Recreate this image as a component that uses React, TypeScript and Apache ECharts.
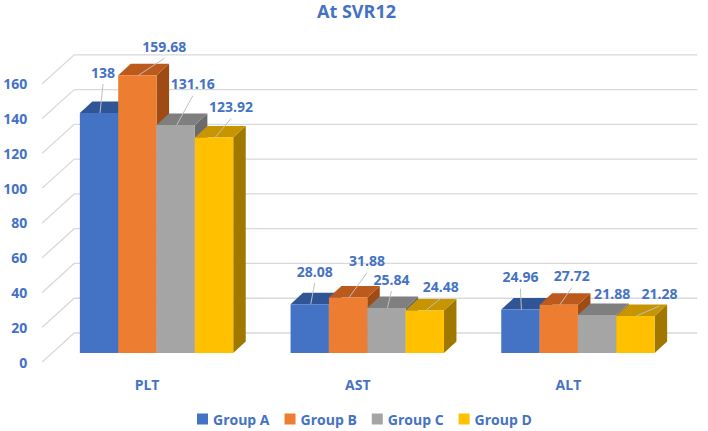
import React, { useEffect, useRef } from "react";
import * as echarts from "echarts";

const categories = ["PLT", "AST", "ALT"];
const groupNames = ["Group A", "Group B", "Group C", "Group D"];
const groupA = [138, 28.08, 24.96];
const groupB = [159.68, 31.88, 27.72];
const groupC = [131.16, 25.84, 21.88];
const groupD = [123.92, 24.48, 21.28];
const yTicks = [0, 20, 40, 60, 80, 100, 120, 140, 160];

// label nudges (pixels, relative to bar front-top centre) and leader visibility
const labelNudgeA = [[4, -41], [5, -33], [0, -33]];
const labelNudgeB = [[27, -29], [19, -37], [13, -29]];
const labelNudgeC = [[17, -41], [5, -29], [15, -21]];
const labelNudgeD = [[17, -31], [16, -24], [24, -22]];
const leaderA = [true, true, true];
const leaderB = [true, true, true];
const leaderC = [true, true, false];
const leaderD = [true, true, true];

const seriesValues = [groupA, groupB, groupC, groupD];
const labelNudges = [labelNudgeA, labelNudgeB, labelNudgeC, labelNudgeD];
const leaders = [leaderA, leaderB, leaderC, leaderD];

const frontColors = ["#4472C4", "#ED7D31", "#A5A5A5", "#FFC000"];
const topColors = ["#2F5597", "#BB5A1C", "#7F7F7F", "#C69500"];
const sideColors = ["#27477E", "#A04A14", "#6B6B6B", "#A07800"];

const TEXT = "#4472C4";
const FONT = "'Open Sans', 'Noto Sans', sans-serif";
const DX = 12.5;
const DY = -11.5;
const FRONT_SHIFT = -9;
const BAR_FRAC = 0.182;

function barGeom(api: any, g: number) {
  const cat = api.value(0);
  const val = api.value(1);
  const base = api.coord([cat, 0]);
  const top = api.coord([cat, val]);
  const band = api.size([1, 0])[0];
  const bw = band * BAR_FRAC;
  const x0 = base[0] + (g - 2) * bw;
  return { x0, bw, yTop: top[1] + FRONT_SHIFT, yBot: base[1] + FRONT_SHIFT };
}

export default function App() {
  const ref = useRef<HTMLDivElement>(null);
  useEffect(() => {
    if (!ref.current) return;
    const chart = echarts.init(ref.current, null, { renderer: "svg" });

    const gridSeries: any = {
      type: "custom",
      name: "grid",
      z: 0,
      silent: true,
      encode: { x: 0, y: 1 },
      data: yTicks.map((v) => [0, v]),
      renderItem: (params: any, api: any) => {
        const cs = params.coordSys;
        const y = api.coord([0, api.value(1)])[1];
        return {
          type: "polyline",
          shape: {
            points: [
              [cs.x - 9, y],
              [cs.x + 23, y - 29],
              [cs.x + cs.width + 14, y - 29],
            ],
          },
          style: { stroke: "#D9D9D9", lineWidth: 1.3, fill: "none" },
        };
      },
    };

    const barSeries = groupNames.map((name, g) => ({
      type: "custom",
      name,
      z: 2,
      itemStyle: { color: frontColors[g] },
      encode: { x: 0, y: 1 },
      data: categories.map((_, j) => [j, seriesValues[g][j]]),
      renderItem: (params: any, api: any) => {
        const { x0, bw, yTop, yBot } = barGeom(api, g);
        return {
          type: "group",
          children: [
            {
              type: "polygon",
              shape: {
                points: [
                  [x0 + bw, yTop],
                  [x0 + bw + DX, yTop + DY],
                  [x0 + bw + DX, yBot + DY],
                  [x0 + bw, yBot],
                ],
              },
              style: { fill: sideColors[g] },
            },
            {
              type: "polygon",
              shape: {
                points: [
                  [x0, yTop],
                  [x0 + bw, yTop],
                  [x0 + bw + DX, yTop + DY],
                  [x0 + DX, yTop + DY],
                ],
              },
              style: { fill: topColors[g] },
            },
            {
              type: "rect",
              shape: { x: x0, y: yTop, width: bw, height: yBot - yTop },
              style: { fill: frontColors[g] },
            },
          ],
        };
      },
    }));

    const labelData: number[][] = [];
    groupNames.forEach((_, g) => {
      categories.forEach((_, j) => labelData.push([j, seriesValues[g][j], g]));
    });

    const labelSeries: any = {
      type: "custom",
      name: "labels",
      z: 10,
      silent: true,
      encode: { x: 0, y: 1 },
      data: labelData,
      renderItem: (params: any, api: any) => {
        const g = api.value(2);
        const j = api.value(0);
        const { x0, bw, yTop } = barGeom(api, g);
        const cx = x0 + bw / 2;
        const nudge = labelNudges[g][j];
        const lx = cx + nudge[0];
        const ly = yTop + nudge[1];
        const children: any[] = [];
        if (leaders[g][j]) {
          children.push({
            type: "line",
            shape: { x1: lx, y1: ly + 12, x2: cx + 1, y2: yTop },
            style: { stroke: "#BFBFBF", lineWidth: 1 },
          });
        }
        children.push({
          type: "text",
          x: lx,
          y: ly,
          style: {
            text: String(seriesValues[g][j]),
            align: "center",
            verticalAlign: "middle",
            fill: TEXT,
            font: `bold 14px ${FONT}`,
          },
        });
        return { type: "group", children };
      },
    };

    chart.setOption({
      animation: false,
      backgroundColor: "#ffffff",
      title: {
        text: "At SVR12",
        left: 317,
        top: 2,
        padding: 0,
        textStyle: { color: TEXT, fontSize: 18, fontWeight: "bold", fontFamily: FONT },
      },
      legend: {
        data: groupNames.map((n) => ({ name: n, icon: "rect" })),
        left: 197,
        top: 412,
        padding: 0,
        itemWidth: 11,
        itemHeight: 11,
        itemGap: 15,
        textStyle: { color: TEXT, fontSize: 14, fontWeight: "bold", fontFamily: FONT },
      },
      grid: { left: 51.2, right: 24.7, top: 83.8, bottom: 69, containLabel: false },
      xAxis: {
        type: "category",
        data: categories,
        axisLine: { show: false },
        axisTick: { show: false },
        axisLabel: {
          margin: 15,
          color: TEXT,
          fontSize: 14,
          fontWeight: "bold",
          fontFamily: FONT,
          padding: [0, 19, 0, 0],
        },
        splitLine: { show: false },
      },
      yAxis: {
        type: "value",
        min: 0,
        max: 160,
        interval: 20,
        axisLine: { show: false },
        axisTick: { show: false },
        splitLine: { show: false },
        axisLabel: {
          margin: 24,
          color: TEXT,
          fontSize: 14,
          fontWeight: "bold",
          fontFamily: FONT,
        },
      },
      series: [gridSeries, ...barSeries, labelSeries],
    });
    return () => chart.dispose();
  }, []);
  return (
    <div
      ref={ref}
      style={{ position: "fixed", left: 0, top: 0, width: 708, height: 431, background: "#fff" }}
    />
  );
}
